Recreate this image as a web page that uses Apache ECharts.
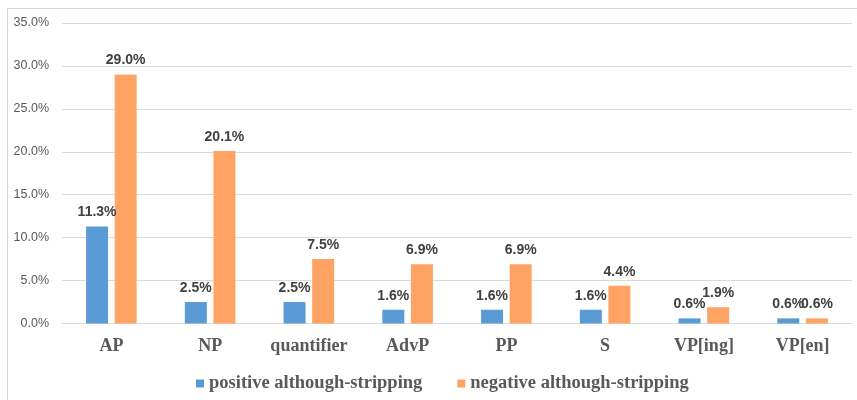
<!DOCTYPE html>
<html>
<head>
<meta charset="utf-8">
<script src="https://cdn.jsdelivr.net/npm/echarts@6/dist/echarts.min.js"></script>
<style>
  html, body { margin: 0; padding: 0; background: #fff; }
  #chart { width: 857px; height: 400px; }
</style>
</head>
<body>
<div id="chart"></div>
<script>
// Phrase categories and the share of each stripping type (in percent)
const categories = ['AP', 'NP', 'quantifier', 'AdvP', 'PP', 'S', 'VP[ing]', 'VP[en]'];
const positiveValues = [11.3, 2.5, 2.5, 1.6, 1.6, 1.6, 0.6, 0.6];
const negativeValues = [29.0, 20.1, 7.5, 6.9, 6.9, 4.4, 1.9, 0.6];
const seriesNames = ['positive although-stripping', 'negative although-stripping'];
const yTicks = { min: 0, max: 35, interval: 5 };

const chart = echarts.init(document.getElementById('chart'));

const labelStyle = {
  show: true,
  position: 'top',
  distance: 7,
  fontFamily: '"Liberation Sans", Arial, sans-serif',
  fontWeight: 'bold',
  fontSize: 14,
  color: '#404040',
  formatter: p => p.value.toFixed(1) + '%'
};

chart.setOption({
  animation: false,
  backgroundColor: '#ffffff',
  graphic: [
    { type: 'line', shape: { x1: 7.5, y1: 8, x2: 7.5, y2: 400 }, style: { stroke: '#D9D9D9', lineWidth: 1 } },
    { type: 'line', shape: { x1: 7, y1: 8.5, x2: 857, y2: 8.5 }, style: { stroke: '#D9D9D9', lineWidth: 1 } }
  ],
  grid: { left: 62, right: 5, top: 23, bottom: 76.5 },
  legend: {
    data: seriesNames,
    left: 191,
    top: 369,
    icon: 'rect',
    itemWidth: 8,
    itemHeight: 8,
    itemGap: 35,
    textStyle: {
      fontFamily: '"Liberation Serif", "Times New Roman", serif',
      fontWeight: 'bold',
      fontSize: 18.5,
      color: '#595959'
    }
  },
  xAxis: {
    type: 'category',
    data: categories,
    axisLine: { show: true, lineStyle: { color: '#D9D9D9', width: 1 } },
    axisTick: { show: false },
    axisLabel: {
      interval: 0,
      margin: 14,
      fontFamily: '"Liberation Serif", "Times New Roman", serif',
      fontWeight: 'bold',
      fontSize: 18,
      color: '#595959'
    }
  },
  yAxis: {
    type: 'value',
    min: yTicks.min,
    max: yTicks.max,
    interval: yTicks.interval,
    axisLine: { show: false },
    axisTick: { show: false },
    splitLine: { lineStyle: { color: '#D9D9D9', width: 1 } },
    axisLabel: {
      margin: 13,
      fontFamily: '"Liberation Sans", Arial, sans-serif',
      fontSize: 12.5,
      color: '#595959',
      formatter: v => v.toFixed(1) + '%'
    }
  },
  series: [
    {
      name: seriesNames[0],
      type: 'bar',
      data: positiveValues,
      barWidth: 22,
      barGap: '30%',
      itemStyle: { color: '#5B9BD5' },
      label: labelStyle
    },
    {
      name: seriesNames[1],
      type: 'bar',
      data: negativeValues,
      barWidth: 22,
      barGap: '30%',
      itemStyle: { color: '#FFA365' },
      label: labelStyle
    }
  ]
});
</script>
</body>
</html>
